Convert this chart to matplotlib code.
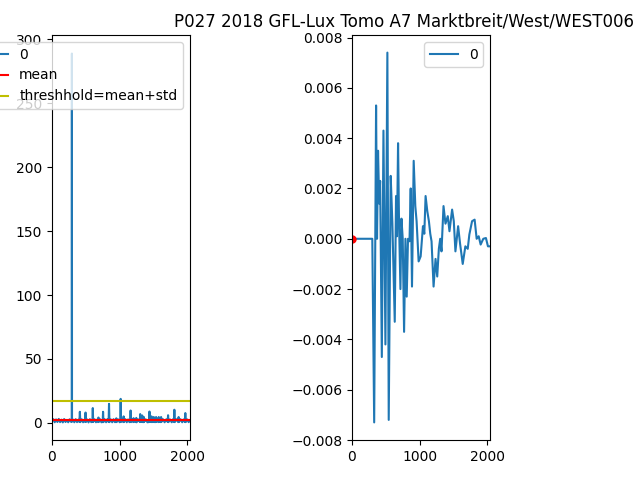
import matplotlib

matplotlib.use("Agg")

import matplotlib.pyplot as plt

TITLE = "P027 2018 GFL-Lux Tomo A7 Marktbreit/West/WEST006"

# left panel: raw signal (sample index, value)
raw_idx = [
    0, 20, 40, 60, 80, 100, 120, 140, 160, 180, 200, 220, 240, 260, 280, 292,
    294, 296, 310, 330, 350, 370, 390, 405, 412, 419, 440, 460, 480, 490, 496,
    502, 520, 540, 560, 580, 597, 603, 609, 630, 650, 670, 682, 687, 692, 710,
    730, 749, 755, 761, 780, 800, 820, 837, 843, 849, 870, 890, 910, 930, 946,
    951, 956, 980, 1000, 1009, 1015, 1021, 1040, 1054, 1059, 1064, 1085, 1105,
    1125, 1145, 1156, 1162, 1168, 1185, 1201, 1206, 1211, 1230, 1241, 1246,
    1251, 1275, 1298, 1304, 1310, 1318, 1328, 1334, 1340, 1353, 1358, 1363,
    1385, 1410, 1435, 1441, 1447, 1460, 1466, 1471, 1476, 1490, 1500, 1505,
    1510, 1525, 1534, 1539, 1544, 1560, 1573, 1578, 1583, 1595, 1608, 1613,
    1618, 1640, 1665, 1690, 1710, 1716, 1722, 1745, 1770, 1790, 1803, 1809,
    1815, 1840, 1866, 1872, 1878, 1900, 1925, 1945, 1965, 1971, 1977, 2000,
    2020, 2040,
]
raw_val = [
    1.2, 2.8, 0.4, 2.6, 0.6, 3.0, 0.5, 2.4, 0.3, 2.9, 0.6, 2.2, 0.4, 2.7, 0.8, 0.9,
    289.0, 1.0, 2.5, 0.4, 2.8, 0.5, 2.4, 0.6, 8.6, 0.5, 2.7, 0.4, 2.5, 0.7, 8.0,
    0.6, 2.6, 0.3, 2.8, 0.5, 0.8, 11.5, 0.6, 2.7, 0.4, 2.6, 0.5, 4.1, 0.6, 2.8,
    0.4, 0.6, 8.6, 0.5, 2.7, 0.4, 2.9, 0.6, 14.8, 0.5, 2.6, 0.4, 2.8, 0.5, 0.7,
    3.5, 0.5, 2.6, 0.4, 0.8, 18.7, 0.6, 2.5, 0.5, 5.0, 0.6, 2.8, 0.4,
    2.6, 0.5, 0.7, 9.6, 0.5, 2.7, 0.5, 3.6, 0.6, 2.8, 0.5, 3.8,
    0.4, 2.6, 0.6, 6.8, 0.8, 2.0, 0.7, 5.7, 0.6, 0.5, 4.5, 0.7,
    2.7, 0.4, 0.6, 8.8, 0.6, 2.4, 0.6, 5.0, 0.5, 2.5, 0.6, 4.5,
    0.5, 2.6, 0.5, 4.5, 0.6, 2.7, 0.5, 4.5, 0.6, 2.4, 0.5, 4.5,
    0.6, 2.8, 0.4, 2.7, 0.6, 5.9, 0.5, 2.6, 0.4, 2.8, 0.6, 10.2,
    0.5, 2.7, 0.5, 4.5, 0.6, 2.8, 0.4, 2.6, 0.6, 7.6, 0.5, 2.6,
    0.5, 1.8,
]
raw_mean = 2.3
raw_threshold = 16.8

# right panel: filtered signal
filt_idx = [
    0, 300, 328, 356, 370, 385, 402, 416, 441, 465, 494, 523, 543, 572, 597,
    632, 651, 665, 681, 695, 716, 731, 750, 770, 790, 809, 828, 850, 868, 887,
    912, 936, 955, 985, 1015, 1049, 1069, 1088, 1113, 1137, 1157, 1176, 1206,
    1235, 1260, 1284, 1304, 1323, 1353, 1382, 1416, 1441, 1480, 1505, 1529,
    1569, 1598, 1637, 1676, 1711, 1735, 1775, 1813, 1843, 1873, 1902, 1941,
    1980, 2010, 2040,
]
filt_val = [
    0.0, 0.0, -0.0073, 0.0053, 0.0, 0.0035, 0.0014, 0.0023, -0.0047, 0.0043,
    -0.0042, 0.0074, -0.0072, 0.0025, 0.0006, -0.0033, 0.0017, 0.0001, 0.0038,
    0.0007, -0.0020, 0.0008, 0.0, -0.0037, 0.0, -0.0023, 0.0, -0.0001, 0.0020,
    -0.0019, 0.0031, 0.0013, 0.0007, -0.0009, -0.0007, 0.0005, 0.0002, 0.0017,
    0.0011, 0.0007, 0.0002, -0.0001, -0.0019, -0.0008, -0.0015, -0.0004, 0.0,
    -0.0005, 0.0013, 0.0006, 0.0009, 0.0003, 0.00116, 0.0007, -0.0005, 0.0005,
    -0.0002, -0.0010, -0.0003, -0.0004, 0.00017, 0.0007, 0.00076, 0.0, 0.0001,
    -0.00023, 0.0, 0.00003, -0.0003, -0.0003,
]
start_idx = [0]
start_val = [0.0]

fig = plt.figure(figsize=(6.4, 4.8), dpi=100)
ax_raw = fig.add_axes([0.08125, 0.0833, 0.2156, 0.84375])
ax_filt = fig.add_axes([0.55, 0.0833, 0.2156, 0.84375])

ax_raw.plot(raw_idx, raw_val, color="#1f77b4", linewidth=1.5, label="0")
ax_raw.axhline(raw_mean, color="r", linewidth=1.5, label="mean")
ax_raw.axhline(raw_threshold, color="y", linewidth=1.5, label="threshhold=mean+std")
ax_raw.set_xlim(0, 2040)
ax_raw.set_ylim(-13.5, 303.5)
ax_raw.set_yticks([0, 50, 100, 150, 200, 250, 300])
ax_raw.set_xticks([0, 1000, 2000])
ax_raw.legend(loc="upper right")

ax_filt.plot(filt_idx, filt_val, color="#1f77b4", linewidth=1.5, label="0")
ax_filt.plot(start_idx, start_val, "ro", markersize=5)
ax_filt.set_xlim(0, 2040)
ax_filt.set_ylim(-0.008, 0.0081)
ax_filt.set_yticks([-0.008, -0.006, -0.004, -0.002, 0.0, 0.002, 0.004, 0.006, 0.008])
ax_filt.set_xticks([0, 1000, 2000])
ax_filt.legend(handles=ax_filt.get_lines()[:1], loc="upper right")

fig.text(174 / 640, 1 - 26.5 / 480, TITLE, fontsize=12, ha="left", va="baseline")

fig.savefig("out.png", dpi=100)
plt.close(fig)
